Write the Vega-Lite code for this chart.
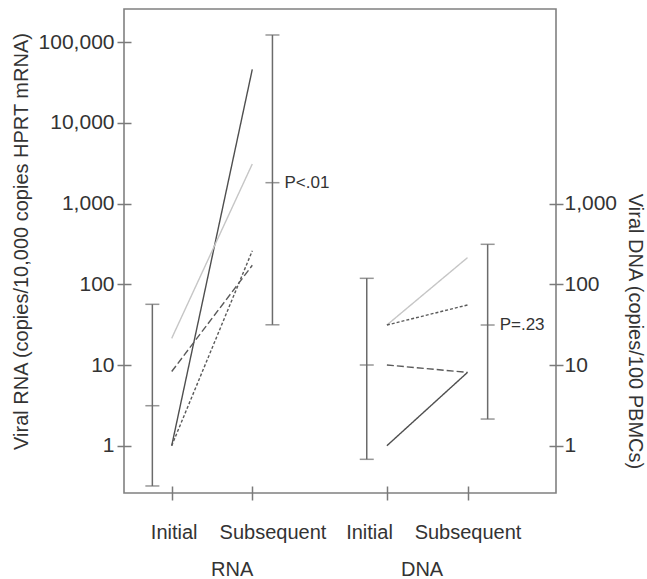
{
  "$schema": "https://vega.github.io/schema/vega-lite/v6.json",
  "width": 432,
  "height": 484,
  "autosize": {"type": "none"},
  "padding": {"left": 124, "top": 9, "right": 91, "bottom": 86},
  "background": "white",
  "config": {
    "view": {"stroke": "#808080", "strokeWidth": 1.6},
    "font": "Liberation Sans",
    "axis": {"grid": false, "domain": false, "labelFont": "Liberation Sans", "titleFont": "Liberation Sans", "labelColor": "#333333", "titleColor": "#333333", "titleFontWeight": "normal", "tickColor": "#7a7a7a", "tickWidth": 1.5, "labelOverlap": false, "labelFlush": false}
  },
  "datasets": {
    "lines": [
      {"group": "RNA", "patient": "r1", "style": "solid", "pos": 1, "value": 1},
      {"group": "RNA", "patient": "r1", "style": "solid", "pos": 2, "value": 46100},
      {"group": "RNA", "patient": "r2", "style": "light", "pos": 1, "value": 21.4},
      {"group": "RNA", "patient": "r2", "style": "light", "pos": 2, "value": 3100},
      {"group": "RNA", "patient": "r3", "style": "dashed", "pos": 1, "value": 8.3},
      {"group": "RNA", "patient": "r3", "style": "dashed", "pos": 2, "value": 172},
      {"group": "RNA", "patient": "r4", "style": "dotted", "pos": 1, "value": 1},
      {"group": "RNA", "patient": "r4", "style": "dotted", "pos": 2, "value": 260},
      {"group": "DNA", "patient": "d1", "style": "light", "pos": 3.67, "value": 31.3},
      {"group": "DNA", "patient": "d1", "style": "light", "pos": 4.67, "value": 214},
      {"group": "DNA", "patient": "d2", "style": "dotted", "pos": 3.67, "value": 31.3},
      {"group": "DNA", "patient": "d2", "style": "dotted", "pos": 4.67, "value": 55.4},
      {"group": "DNA", "patient": "d3", "style": "dashed", "pos": 3.67, "value": 10},
      {"group": "DNA", "patient": "d3", "style": "dashed", "pos": 4.67, "value": 8.1},
      {"group": "DNA", "patient": "d4", "style": "solid", "pos": 3.67, "value": 1},
      {"group": "DNA", "patient": "d4", "style": "solid", "pos": 4.67, "value": 8.1}
    ],
    "bars": [
      {"group": "RNA", "time": "Initial", "pos": 0.76, "lo": 0.317, "mid": 3.13, "hi": 56.5, "p": ""},
      {"group": "RNA", "time": "Subsequent", "pos": 2.25, "lo": 31.5, "mid": 1816, "hi": 122800, "p": "P<.01"},
      {"group": "DNA", "time": "Initial", "pos": 3.42, "lo": 0.678, "mid": 10, "hi": 118.6, "p": ""},
      {"group": "DNA", "time": "Subsequent", "pos": 4.92, "lo": 2.14, "mid": 31.3, "hi": 313, "p": "P=.23"}
    ]
  },
  "layer": [
    {
      "data": {"name": "lines"},
      "mark": {"type": "line", "strokeWidth": 1.4},
      "encoding": {
        "x": {"field": "pos", "type": "quantitative",
          "scale": {"domain": [0.4082, 5.768], "nice": false, "zero": false},
          "axis": {"orient": "bottom", "values": [1, 2, 3.67, 4.67], "labels": false, "offset": -7, "tickSize": 14, "title": null}},
        "y": {"field": "value", "type": "quantitative",
          "scale": {"type": "log", "domain": [0.2594, 257800], "nice": false},
          "axis": {"orient": "left", "values": [1, 10, 100, 1000, 10000, 100000], "format": ",", "offset": -7, "tickSize": 14, "labelPadding": 3, "labelFontSize": 21,
            "title": "Viral RNA (copies/10,000 copies HPRT mRNA)", "titleFontSize": 20, "titleX": -99.5, "titleY": 232, "titleAngle": 270, "titleBaseline": "bottom", "titleAlign": "center"}},
        "detail": {"field": "patient"},
        "color": {"field": "style", "type": "nominal", "legend": null,
          "scale": {"domain": ["solid", "light", "dashed", "dotted"], "range": ["#4f4f4f", "#c6c6c6", "#5a5a5a", "#5a5a5a"]}},
        "strokeDash": {"field": "style", "type": "nominal", "legend": null,
          "scale": {"domain": ["solid", "light", "dashed", "dotted"], "range": [[1, 0], [1, 0], [7, 3], [3, 2]]}}
      }
    },
    {
      "data": {"name": "bars"},
      "mark": {"type": "rule", "color": "#6b6b6b", "strokeWidth": 1.5},
      "encoding": {
        "x": {"field": "pos", "type": "quantitative",
          "axis": {"orient": "bottom", "values": [1.025, 2.25, 3.448, 4.67], "labelExpr": "(datum.value < 1.5 || (datum.value > 3 && datum.value < 4)) ? 'Initial' : 'Subsequent'", "ticks": false, "tickSize": 0, "labelPadding": 29.3, "labelFontSize": 20, "title": null}},
        "y": {"field": "lo", "type": "quantitative",
          "axis": {"orient": "right", "values": [1, 10, 100, 1000], "format": ",", "offset": -7, "tickSize": 14, "labelPadding": 1, "labelFontSize": 21,
            "title": "Viral DNA (copies/100 PBMCs)", "titleFontSize": 20, "titleX": 75, "titleY": 322, "titleAngle": 90, "titleBaseline": "bottom", "titleAlign": "center"}},
        "y2": {"field": "hi"}
      }
    },
    {
      "data": {"name": "bars"},
      "transform": [{"fold": ["lo", "mid", "hi"], "as": ["k", "v"]}],
      "mark": {"type": "tick", "orient": "horizontal", "color": "#6b6b6b", "size": 14, "thickness": 1.5},
      "encoding": {
        "x": {"field": "pos", "type": "quantitative",
          "axis": {"orient": "bottom", "values": [1.744, 4.1], "labelExpr": "datum.value < 3 ? 'RNA' : 'DNA'", "ticks": false, "tickSize": 0, "labelPadding": 66.5, "labelFontSize": 20, "title": null}},
        "y": {"field": "v", "type": "quantitative", "axis": null}
      }
    },
    {
      "data": {"name": "bars"},
      "mark": {"type": "text", "align": "left", "baseline": "middle", "dx": 12, "fontSize": 17, "color": "#333333", "font": "Liberation Sans"},
      "encoding": {
        "x": {"field": "pos", "type": "quantitative", "axis": null},
        "y": {"field": "mid", "type": "quantitative", "axis": null},
        "text": {"field": "p"}
      }
    }
  ],
  "resolve": {"axis": {"x": "independent", "y": "independent"}}
}
